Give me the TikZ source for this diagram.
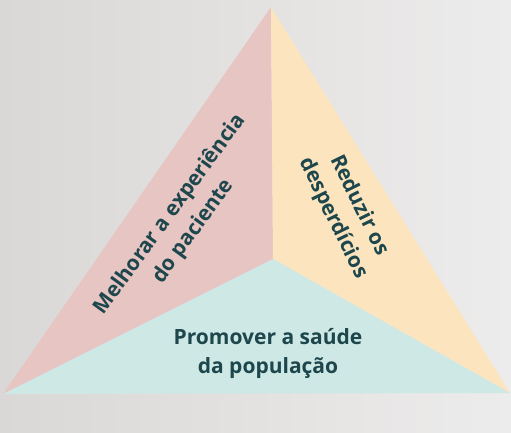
\documentclass[tikz,border=0pt]{standalone}
\usepackage{fontspec}
\setmainfont{Open Sans}
\definecolor{rosa}{HTML}{E6C5C3}
\definecolor{amarelo}{HTML}{FCE5BE}
\definecolor{verde}{HTML}{CDE8E5}
\definecolor{tinta}{HTML}{1D474C}
\definecolor{fundoesq}{HTML}{DAD8D6}
\definecolor{fundodir}{HTML}{EDECEC}
\tikzset{
  rotulo/.style={align=center, text=tinta, font=\bfseries\fontsize{21}{29}\selectfont, inner sep=0pt}
}
\begin{document}
\begin{tikzpicture}[x=1pt, y=-1pt]
  \shade[left color=fundoesq, right color=fundodir] (0,0) rectangle (511,432);
  \useasboundingbox (0,0) rectangle (511,432);

  \coordinate (topo) at (271,7);
  \coordinate (esq) at (3,394);
  \coordinate (dir) at (510,393);
  \coordinate (centro) at (273,259);

  % tres partes do triangulo
  \fill[rosa] (topo) -- (centro) -- (esq) -- cycle;
  \fill[amarelo] (topo) -- (dir) -- (centro) -- cycle;
  \fill[verde] (esq) -- (centro) -- (dir) -- cycle;

  \node[rotulo, rotate=54] (experiencia) at (182,223) {Melhorar a experiência\\do paciente};
  \node[rotulo, rotate=-64] (desperdicios) at (346,212) {Reduzir os\\desperdícios};
  \node[rotulo] (saude) at (268,353) {Promover a saúde\\da população};
\end{tikzpicture}
\end{document}
